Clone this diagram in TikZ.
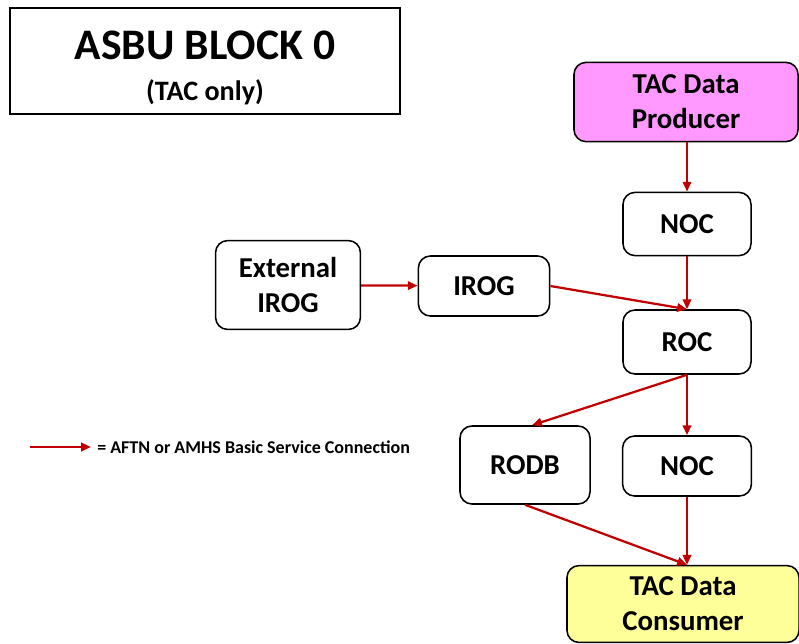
\documentclass[tikz,border=0pt]{standalone}
\usepackage{fontspec}
\setmainfont{Carlito}
\usepackage{xcolor}
\usetikzlibrary{shapes,arrows.meta,positioning}

\definecolor{linkred}{HTML}{C00000}
\definecolor{prodpink}{HTML}{FF99FF}
\definecolor{conyellow}{HTML}{FFFF99}

\begin{document}
\begin{tikzpicture}[
    x=0.025cm, y=-0.025cm,
    unit/.style={rectangle, draw, line width=1.1pt, rounded corners=0.3cm, align=center, font=\fontsize{20.5}{25}\selectfont\bfseries, inner sep=0pt},
    producer/.style={unit, fill=prodpink},
    consumer/.style={unit, fill=conyellow},
    link/.style={-{Triangle[length=7pt,width=6pt]}, line width=1.6pt, linkred}
]
\useasboundingbox (0,0) rectangle (799,643);

% Title
\node[rectangle, draw, line width=1.1pt, minimum width=9.75cm, minimum height=2.65cm, align=center, font=\fontsize{20}{29}\selectfont\bfseries] (title) at (205,61)
  {{\fontsize{31}{36}\selectfont\rule{0pt}{30pt}ASBU BLOCK 0}\\(TAC only)};

% Units
\node[producer, minimum width=5.6cm, minimum height=1.98cm] (prod) at (686,102) {TAC Data\\Producer};
\node[unit, minimum width=3.2cm, minimum height=1.58cm] (noca) at (687,224) {NOC};
\node[unit, minimum width=3.62cm, minimum height=2.22cm] (extirog) at (288,285) {External\\IROG};
\node[unit, minimum width=3.28cm, minimum height=1.5cm] (irog) at (484,286) {IROG};
\node[unit, minimum width=3.2cm, minimum height=1.6cm] (roc) at (687,342) {ROC};
\node[unit, minimum width=3.25cm, minimum height=1.95cm] (rodb) at (525,465) {RODB};
\node[unit, minimum width=3.22cm, minimum height=1.5cm] (nocb) at (687,466) {NOC};
\node[consumer, minimum width=5.8cm, minimum height=1.92cm] (cons) at (683,604) {TAC Data\\Consumer};

% Legend
\coordinate (legs) at (30,447);
\coordinate (lege) at (91,447);
\draw[link] (legs) -- (lege);
\node[anchor=west, font=\fontsize{12.8}{15}\selectfont\bfseries, inner sep=0pt] (legtext) at (97,447) {= AFTN or AMHS Basic Service Connection};

% Connections
\draw[link] (prod.south -| noca.north) -- (noca.north);
\draw[link] (noca) -- (roc);
\draw[link] (extirog) -- (irog);
\draw[link] (irog.east) -- (roc.north);
\draw[link] (roc.south) -- ([xshift=5]rodb.north);
\draw[link] (roc) -- (nocb);
\draw[link] (rodb.south) -- (cons.north -| nocb.south);
\draw[link] (nocb) -- (cons.north -| nocb.south);

\end{tikzpicture}
\end{document}
